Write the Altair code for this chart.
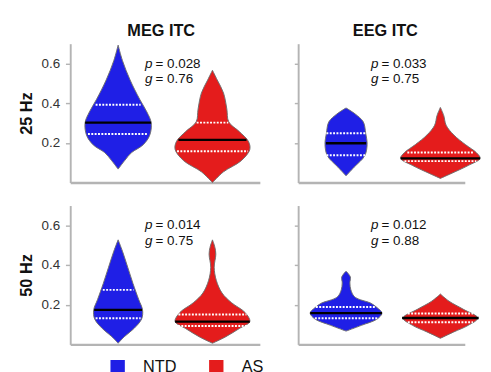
import altair as alt
import pandas as pd

# ---------------- data ----------------
groups = ["NTD", "AS"]
group_colors = ["#1f1fe6", "#e41c1c"]
group_pos = [1.0, 2.97]          # category positions on the x axis

col_titles = ["MEG ITC", "EEG ITC"]
row_titles = ["25 Hz", "50 Hz"]
y_ticks = [0.2, 0.4, 0.6]

p_vals = {"25_MEG": "0.028", "25_EEG": "0.033", "50_MEG": "0.014", "50_EEG": "0.012"}
g_vals = {"25_MEG": "0.76", "25_EEG": "0.75", "50_MEG": "0.75", "50_EEG": "0.88"}

# violin density profiles: value levels and half-widths (density)
ntd_25_meg_v = [0.068, 0.112, 0.151, 0.19, 0.239, 0.302, 0.356, 0.42, 0.517, 0.615, 0.693]
ntd_25_meg_w = [0.0, 0.14, 0.28, 0.52, 0.66, 0.69, 0.60, 0.45, 0.25, 0.09, 0.0]
as_25_meg_v = [0.0, 0.054, 0.11, 0.167, 0.208, 0.257, 0.306, 0.371, 0.452, 0.517, 0.566]
as_25_meg_w = [0.0, 0.23, 0.60, 0.78, 0.75, 0.56, 0.34, 0.30, 0.23, 0.10, 0.0]

ntd_25_eeg_v = [0.034, 0.078, 0.135, 0.192, 0.249, 0.306, 0.346, 0.376]
ntd_25_eeg_w = [0.0, 0.17, 0.39, 0.44, 0.41, 0.36, 0.19, 0.0]
as_25_eeg_v = [0.021, 0.045, 0.086, 0.122, 0.151, 0.192, 0.24, 0.289, 0.338, 0.379]
as_25_eeg_w = [0.0, 0.22, 0.58, 0.83, 0.75, 0.52, 0.28, 0.12, 0.07, 0.0]

ntd_50_meg_v = [0.006, 0.039, 0.08, 0.128, 0.174, 0.226, 0.307, 0.389, 0.47, 0.527]
ntd_50_meg_w = [0.0, 0.13, 0.33, 0.49, 0.51, 0.43, 0.31, 0.20, 0.09, 0.0]
as_50_meg_v = [0.006, 0.039, 0.08, 0.115, 0.161, 0.21, 0.259, 0.323, 0.389, 0.454, 0.49, 0.527]
as_50_meg_w = [0.0, 0.28, 0.56, 0.78, 0.68, 0.40, 0.20, 0.08, 0.036, 0.07, 0.05, 0.0]

ntd_50_eeg_v = [0.067, 0.096, 0.128, 0.158, 0.185, 0.21, 0.225, 0.242, 0.275, 0.31, 0.34, 0.369]
ntd_50_eeg_w = [0.0, 0.32, 0.65, 0.75, 0.65, 0.50, 0.30, 0.17, 0.10, 0.08, 0.09, 0.0]
as_50_eeg_v = [0.031, 0.063, 0.096, 0.133, 0.177, 0.218, 0.254]
as_50_eeg_w = [0.0, 0.28, 0.58, 0.78, 0.48, 0.18, 0.0]

# quartiles (q1, median, q3) and line half-widths
ntd_25_meg_q = [0.245, 0.302, 0.392]; ntd_25_meg_qw = [0.63, 0.69, 0.47]
as_25_meg_q = [0.158, 0.215, 0.302];  as_25_meg_qw = [0.74, 0.71, 0.33]
ntd_25_eeg_q = [0.138, 0.198, 0.249]; ntd_25_eeg_qw = [0.41, 0.42, 0.41]
as_25_eeg_q = [0.108, 0.122, 0.152];  as_25_eeg_qw = [0.75, 0.83, 0.69]
ntd_50_meg_q = [0.132, 0.174, 0.275]; ntd_50_meg_qw = [0.47, 0.50, 0.32]
as_50_meg_q = [0.093, 0.115, 0.151];  as_50_meg_qw = [0.72, 0.78, 0.71]
ntd_50_eeg_q = [0.132, 0.158, 0.189]; ntd_50_eeg_qw = [0.65, 0.75, 0.63]
as_50_eeg_q = [0.112, 0.133, 0.156];  as_50_eeg_qw = [0.68, 0.80, 0.68]

panels = {
    "25_MEG": {"NTD": (ntd_25_meg_v, ntd_25_meg_w, ntd_25_meg_q, ntd_25_meg_qw),
               "AS": (as_25_meg_v, as_25_meg_w, as_25_meg_q, as_25_meg_qw)},
    "25_EEG": {"NTD": (ntd_25_eeg_v, ntd_25_eeg_w, ntd_25_eeg_q, ntd_25_eeg_qw),
               "AS": (as_25_eeg_v, as_25_eeg_w, as_25_eeg_q, as_25_eeg_qw)},
    "50_MEG": {"NTD": (ntd_50_meg_v, ntd_50_meg_w, ntd_50_meg_q, ntd_50_meg_qw),
               "AS": (as_50_meg_v, as_50_meg_w, as_50_meg_q, as_50_meg_qw)},
    "50_EEG": {"NTD": (ntd_50_eeg_v, ntd_50_eeg_w, ntd_50_eeg_q, ntd_50_eeg_qw),
               "AS": (as_50_eeg_v, as_50_eeg_w, as_50_eeg_q, as_50_eeg_qw)},
}

# ---------------- chart ----------------
WIDTHS = [198, 174]
H = 145
PX_PER_UNIT = 50
yscale = alt.Scale(domain=[0, 0.7], nice=False)
cscale = alt.Scale(domain=groups, range=group_colors)
AXC = "#b4b4b4"
LEGEND = alt.Legend(orient="none", legendX=41, legendY=329, direction="horizontal",
                    title=None, symbolType="square", symbolSize=225, symbolStrokeWidth=0,
                    labelFontSize=17, labelColor="#111", labelOffset=18, columnPadding=33)


def make_panel(key, r, c):
    W = WIDTHS[c]
    xscale = alt.Scale(domain=[0, W / PX_PER_UNIT], nice=False, zero=False)
    prow, qrows = [], []
    for g, pos in zip(groups, group_pos):
        vs, ws, qs, qws = panels[key][g]
        n = len(vs)
        # closed outline: up the left edge, then down the right edge
        for i in range(n):
            prow.append({"group": g, "v": vs[i], "x": pos - ws[i], "o": i})
        for i in range(n - 1, -1, -1):
            prow.append({"group": g, "v": vs[i], "x": pos + ws[i], "o": 2 * n - 1 - i})
        for k, (q, qw) in enumerate(zip(qs, qws)):
            qrows.append({"group": g, "v": q, "lo": pos - qw, "hi": pos + qw,
                          "kind": "median" if k == 1 else "quart"})
    pdf = pd.DataFrame(prow)
    qdf = pd.DataFrame(qrows)

    yaxis = alt.Axis(values=y_ticks, format=".1f", grid=False, labels=(c == 0),
                     domainColor=AXC, domainWidth=2, tickColor=AXC,
                     tickSize=5 if c == 0 else 4,
                     tickWidth=1.5, labelFontSize=14, labelColor="#333",
                     labelPadding=6,
                     title=row_titles[r] if c == 0 else None,
                     titleFontSize=17, titleFontWeight="bold", titleColor="#111",
                     titlePadding=6)
    xaxis = alt.Axis(ticks=False, labels=False, grid=False, domainColor=AXC,
                     domainWidth=2.5, title=None)

    violin = alt.Chart(pdf).mark_line(
        filled=True, interpolate="catmull-rom", stroke="#6e6e6e", strokeWidth=1
    ).encode(
        y=alt.Y("v:Q", scale=yscale, axis=yaxis),
        x=alt.X("x:Q", scale=xscale, axis=xaxis),
        color=alt.Color("group:N", scale=cscale, legend=LEGEND),
        detail="group:N",
        order="o:Q",
    )
    quart = alt.Chart(qdf).transform_filter(alt.datum.kind == "quart").mark_rule(
        color="white", strokeWidth=2, strokeDash=[2, 1.5]
    ).encode(y="v:Q", x="lo:Q", x2="hi:Q")
    med = alt.Chart(qdf).transform_filter(alt.datum.kind == "median").mark_rule(
        color="black", strokeWidth=2.5
    ).encode(y="v:Q", x="lo:Q", x2="hi:Q")

    one = pd.DataFrame({"a": [0]})
    px = 78 if c == 0 else 76
    t1 = alt.Chart(one).mark_text(text="p", fontStyle="italic", fontSize=14, align="left",
                                  baseline="alphabetic", color="#111").encode(
        x=alt.value(px), y=alt.value(25))
    t2 = alt.Chart(one).mark_text(text="= " + p_vals[key], fontSize=14, align="left",
                                  baseline="alphabetic", color="#111").encode(
        x=alt.value(px + 11), y=alt.value(25))
    t3 = alt.Chart(one).mark_text(text="g", fontStyle="italic", fontSize=14, align="left",
                                  baseline="alphabetic", color="#111").encode(
        x=alt.value(px), y=alt.value(41))
    t4 = alt.Chart(one).mark_text(text="= " + g_vals[key], fontSize=14, align="left",
                                  baseline="alphabetic", color="#111").encode(
        x=alt.value(px + 11), y=alt.value(41))

    layer = alt.layer(violin, quart, med, t1, t2, t3, t4).properties(width=W, height=H)
    if r == 0:
        layer = layer.properties(title=alt.TitleParams(
            col_titles[c], fontSize=17, fontWeight="bold", color="#111", offset=4,
            dx=-4 if c == 0 else 4))
    return layer


rows_charts = []
for r, f in enumerate(["25", "50"]):
    rows_charts.append(alt.hconcat(make_panel(f + "_MEG", r, 0),
                                   make_panel(f + "_EEG", r, 1), spacing=35))

chart = alt.vconcat(*rows_charts, spacing=22).properties(
    padding={"top": 6, "left": 10, "right": 0, "bottom": 0}
).configure(font="Liberation Sans").configure_view(strokeWidth=0, stroke="transparent"
).resolve_scale(color="shared")

chart.save("out.html", embed_options={"renderer": "svg", "actions": False})
